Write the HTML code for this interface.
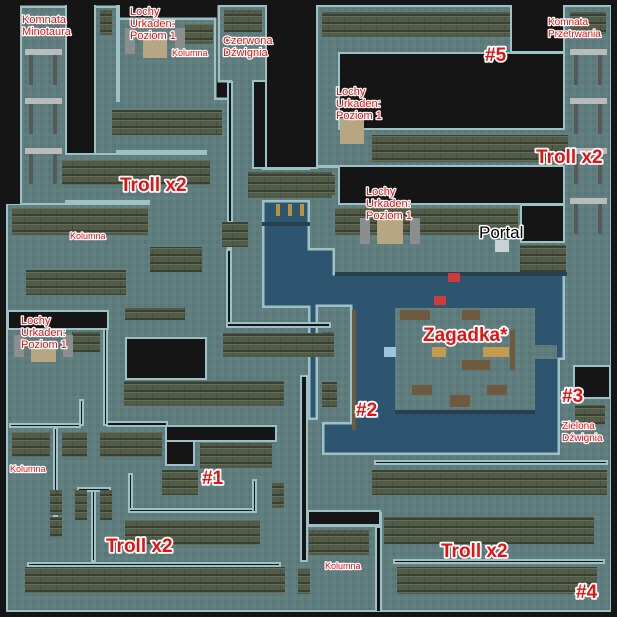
<!DOCTYPE html>
<html><head><meta charset="utf-8"><style>
html,body{margin:0;padding:0;background:#151515;}
svg{display:block;}
text{font-family:"Liberation Sans",sans-serif;paint-order:stroke;stroke:#fff;stroke-linejoin:round;}
.s{font-size:11px;fill:#e81010;stroke-width:2.5px;}
.k{font-size:9px;fill:#e81010;stroke-width:2.5px;}
.b{font-size:19px;font-weight:bold;fill:#e81010;stroke-width:3.5px;}
</style></head><body>
<svg width="617" height="617" viewBox="0 0 617 617" xmlns="http://www.w3.org/2000/svg">
<defs>
<pattern id="w" width="16" height="8" patternUnits="userSpaceOnUse">
<rect width="16" height="8" fill="#525b47"/>
<rect y="6" width="16" height="2" fill="#3a4133"/>
<rect x="8" width="1" height="6" fill="#454d3c"/>
<rect width="16" height="1" fill="#646e57"/>
</pattern>
<pattern id="f" width="8" height="8" patternUnits="userSpaceOnUse">
<rect width="8" height="8" fill="#5f7d7f"/>
<rect width="4" height="4" fill="#5a7779"/>
<rect x="4" y="4" width="4" height="4" fill="#63817f"/>
</pattern>
</defs>
<rect width="617" height="617" fill="#151515"/>
<!-- water -->
<rect x="262" y="200" width="310" height="255" fill="#2e5570"/>
<g fill="none" stroke="#9cc2c6" stroke-width="5">
<rect x="22" y="8" width="43" height="195"/><rect x="22" y="155" width="190" height="45"/>
<rect x="96" y="8" width="20" height="145"/><rect x="120" y="20" width="94" height="82"/>
<rect x="96" y="102" width="130" height="48"/><rect x="207" y="100" width="20" height="240"/>
<rect x="220" y="7" width="45" height="73"/><rect x="232" y="75" width="30" height="260"/>
<rect x="248" y="170" width="90" height="30"/><rect x="8" y="205" width="145" height="105"/>
<rect x="125" y="240" width="85" height="70"/><rect x="150" y="200" width="60" height="50"/>
<rect x="8" y="308" width="300" height="302"/><rect x="8" y="300" width="254" height="12"/>
<rect x="318" y="7" width="292" height="46"/><rect x="318" y="7" width="20" height="158"/>
<rect x="318" y="130" width="292" height="35"/><rect x="565" y="7" width="45" height="453"/>
<rect x="310" y="168" width="28" height="80"/><rect x="335" y="205" width="232" height="68"/>
<rect x="318" y="307" width="32" height="115"/><rect x="318" y="455" width="292" height="57"/>
<rect x="382" y="510" width="228" height="100"/><rect x="307" y="527" width="68" height="83"/>
<rect x="560" y="360" width="50" height="100"/><rect x="300" y="420" width="22" height="92"/>
</g>
<g fill="url(#f)">
<rect x="22" y="8" width="43" height="195"/><rect x="22" y="155" width="190" height="45"/>
<rect x="96" y="8" width="20" height="145"/><rect x="120" y="20" width="94" height="82"/>
<rect x="96" y="102" width="130" height="48"/><rect x="207" y="100" width="20" height="240"/>
<rect x="220" y="7" width="45" height="73"/><rect x="232" y="75" width="30" height="260"/>
<rect x="248" y="170" width="90" height="30"/><rect x="8" y="205" width="145" height="105"/>
<rect x="125" y="240" width="85" height="70"/><rect x="150" y="200" width="60" height="50"/>
<rect x="8" y="308" width="300" height="302"/><rect x="8" y="300" width="254" height="12"/>
<rect x="318" y="7" width="292" height="46"/><rect x="318" y="7" width="20" height="158"/>
<rect x="318" y="130" width="292" height="35"/><rect x="565" y="7" width="45" height="453"/>
<rect x="310" y="168" width="28" height="80"/><rect x="335" y="205" width="232" height="68"/>
<rect x="318" y="307" width="32" height="115"/><rect x="318" y="455" width="292" height="57"/>
<rect x="382" y="510" width="228" height="100"/><rect x="307" y="527" width="68" height="83"/>
<rect x="560" y="360" width="50" height="100"/><rect x="300" y="420" width="22" height="92"/>
</g>
<!-- island -->
<rect x="395" y="308" width="140" height="105" fill="url(#f)"/>
<rect x="535" y="345" width="22" height="14" fill="url(#f)"/>
<rect x="395" y="410" width="140" height="4" fill="#26404f"/>
<rect x="335" y="272" width="232" height="4" fill="#26404f"/>
<rect x="262" y="222" width="48" height="4" fill="#26404f"/>
<!-- voids -->
<g fill="#151515" stroke="#9cc2c6" stroke-width="2">
<rect x="66" y="0" width="29" height="154"/>
<rect x="117" y="0" width="2" height="101"/>
<rect x="266" y="0" width="51" height="168"/>
<rect x="253" y="81" width="13" height="87"/>
<rect x="339" y="53" width="225" height="76"/>
<rect x="511" y="0" width="53" height="52"/>
<rect x="339" y="166" width="225" height="38"/>
<rect x="521" y="205" width="43" height="37"/>
<rect x="8" y="311" width="100" height="18"/>
<rect x="126" y="338" width="80" height="41"/>
<rect x="166" y="426" width="110" height="15"/>
<rect x="166" y="441" width="28" height="24"/>
<rect x="301" y="376" width="6" height="185"/>
<rect x="308" y="511" width="72" height="14"/>
<rect x="376" y="527" width="5" height="85"/>
<rect x="574" y="366" width="36" height="32"/>
<rect x="10" y="424" width="70" height="3"/>
<rect x="54" y="428" width="3" height="88"/>
<rect x="78" y="488" width="32" height="3"/>
<rect x="92" y="491" width="3" height="70"/>
<rect x="129" y="474" width="3" height="36"/>
<rect x="129" y="509" width="124" height="3"/>
<rect x="253" y="480" width="3" height="32"/>
<rect x="28" y="563" width="252" height="3"/>
<rect x="104" y="329" width="3" height="96"/>
<rect x="80" y="400" width="3" height="25"/>
<rect x="107" y="422" width="60" height="4"/>
<rect x="227" y="250" width="4" height="75"/>
<rect x="227" y="323" width="103" height="4"/>
<rect x="228" y="82" width="4" height="140"/>
<rect x="375" y="461" width="232" height="3"/>
<rect x="394" y="560" width="210" height="3"/>
</g>
<rect x="0" y="0" width="617" height="5" fill="#151515"/>
<rect x="0" y="612" width="617" height="5" fill="#151515"/>
<rect x="0" y="0" width="6" height="617" fill="#151515"/>
<rect x="611" y="0" width="6" height="617" fill="#151515"/>
<rect x="0" y="0" width="20" height="204" fill="#151515"/>
<!-- walls -->
<g fill="url(#w)">
<rect x="100" y="10" width="12" height="25"/><rect x="62" y="160" width="148" height="25"/>
<rect x="112" y="110" width="110" height="25"/><rect x="248" y="172" width="84" height="26"/>
<rect x="12" y="208" width="136" height="27"/><rect x="26" y="270" width="100" height="25"/>
<rect x="150" y="247" width="52" height="25"/><rect x="222" y="222" width="26" height="25"/>
<rect x="185" y="24" width="28" height="20"/><rect x="224" y="10" width="38" height="22"/>
<rect x="72" y="332" width="28" height="20"/><rect x="124" y="381" width="160" height="25"/>
<rect x="12" y="432" width="38" height="25"/><rect x="62" y="432" width="25" height="25"/>
<rect x="100" y="432" width="62" height="25"/><rect x="200" y="443" width="72" height="25"/>
<rect x="162" y="470" width="36" height="25"/><rect x="125" y="520" width="135" height="25"/>
<rect x="25" y="567" width="260" height="26"/><rect x="50" y="490" width="12" height="25"/>
<rect x="75" y="490" width="12" height="30"/><rect x="100" y="490" width="12" height="30"/>
<rect x="272" y="483" width="12" height="25"/><rect x="50" y="517" width="12" height="20"/>
<rect x="223" y="333" width="99" height="24"/><rect x="125" y="308" width="60" height="12"/>
<rect x="298" y="568" width="12" height="26"/>
<rect x="322" y="12" width="188" height="25"/><rect x="372" y="135" width="196" height="27"/>
<rect x="335" y="208" width="183" height="27"/><rect x="520" y="245" width="46" height="27"/>
<rect x="307" y="175" width="28" height="20"/><rect x="570" y="12" width="36" height="22"/>
<rect x="372" y="470" width="235" height="25"/><rect x="384" y="517" width="210" height="27"/>
<rect x="397" y="567" width="200" height="27"/><rect x="309" y="530" width="60" height="25"/>
<rect x="322" y="382" width="15" height="25"/><rect x="322" y="332" width="12" height="25"/>
<rect x="575" y="405" width="30" height="20"/>
</g>
<!-- pillars -->
<g fill="#b9bcbb">
<rect x="25" y="49" width="37" height="6"/><rect x="25" y="98" width="37" height="6"/><rect x="25" y="148" width="37" height="6"/>
<rect x="570" y="49" width="37" height="6"/><rect x="570" y="98" width="37" height="6"/><rect x="570" y="148" width="37" height="6"/><rect x="570" y="198" width="37" height="6"/>
</g>
<g fill="#55595a">
<rect x="29" y="55" width="4" height="30"/><rect x="53" y="55" width="4" height="30"/>
<rect x="29" y="104" width="4" height="30"/><rect x="53" y="104" width="4" height="30"/>
<rect x="29" y="154" width="4" height="30"/><rect x="53" y="154" width="4" height="30"/>
<rect x="574" y="55" width="4" height="30"/><rect x="598" y="55" width="4" height="30"/>
<rect x="574" y="104" width="4" height="30"/><rect x="598" y="104" width="4" height="30"/>
<rect x="574" y="154" width="4" height="30"/><rect x="598" y="154" width="4" height="30"/>
<rect x="574" y="204" width="4" height="30"/><rect x="598" y="204" width="4" height="30"/>
</g>
<!-- stairs & columns -->
<g fill="#b6a682">
<rect x="143" y="38" width="24" height="20"/><rect x="340" y="118" width="24" height="26"/>
<rect x="377" y="218" width="26" height="26"/><rect x="31" y="342" width="25" height="20"/>
</g>
<g fill="#8a8e8f">
<rect x="125" y="28" width="10" height="26"/><rect x="175" y="28" width="10" height="22"/>
<rect x="360" y="218" width="10" height="26"/><rect x="410" y="218" width="10" height="26"/>
<rect x="14" y="335" width="10" height="22"/><rect x="63" y="335" width="10" height="22"/>
</g>
<g fill="#b8913a">
<rect x="276" y="204" width="4" height="12"/><rect x="288" y="204" width="4" height="12"/><rect x="300" y="204" width="4" height="12"/>
</g>
<!-- island props -->
<g fill="#6d5a3f">
<rect x="400" y="310" width="30" height="10"/><rect x="462" y="310" width="18" height="10"/>
<rect x="462" y="360" width="28" height="10"/><rect x="412" y="385" width="20" height="10"/>
<rect x="487" y="385" width="20" height="10"/><rect x="450" y="395" width="20" height="12"/>
<rect x="352" y="310" width="4" height="120"/><rect x="510" y="330" width="5" height="40"/>
</g>
<rect x="432" y="347" width="14" height="10" fill="#c49a4e"/><rect x="483" y="347" width="26" height="10" fill="#c49a4e"/>
<rect x="384" y="347" width="12" height="10" fill="#9fc4e0"/>
<rect x="448" y="273" width="12" height="9" fill="#d03a3a"/><rect x="434" y="296" width="12" height="9" fill="#d03a3a"/>
<rect x="495" y="240" width="14" height="12" fill="#c9d3d3"/>
<!-- labels -->
<text class="s" x="22" y="23">Komnata</text><text class="s" x="22" y="35">Minotaura</text>
<text class="s" x="130" y="15">Lochy</text><text class="s" x="130" y="27">Urkaden:</text><text class="s" x="130" y="39">Poziom 1</text>
<text class="k" x="172" y="56">Kolumna</text>
<text class="s" x="223" y="44">Czerwona</text><text class="s" x="223" y="56">Dźwignia</text>
<text class="b" x="120" y="191">Troll x2</text>
<text class="k" x="70" y="239">Kolumna</text>
<text class="b" x="485" y="61">#5</text>
<text class="s" x="548" y="25" style="font-size:10px">Komnata</text><text class="s" x="548" y="37" style="font-size:10px">Przetrwania</text>
<text class="s" x="336" y="95">Lochy</text><text class="s" x="336" y="107">Urkaden:</text><text class="s" x="336" y="119">Poziom 1</text>
<text class="b" x="536" y="163">Troll x2</text>
<text class="s" x="366" y="195">Lochy</text><text class="s" x="366" y="207">Urkaden:</text><text class="s" x="366" y="219">Poziom 1</text>
<text x="479" y="238" style="font-size:17px;fill:#000;stroke-width:3px">Portal</text>
<text class="b" x="423" y="341">Zagadka*</text>
<text class="b" x="356" y="416">#2</text>
<text class="b" x="562" y="402">#3</text>
<text class="s" x="562" y="429" style="font-size:10px">Zielona</text><text class="s" x="562" y="441" style="font-size:10px">Dźwignia</text>
<text class="s" x="21" y="324">Lochy</text><text class="s" x="21" y="336">Urkaden:</text><text class="s" x="21" y="348">Poziom 1</text>
<text class="k" x="10" y="472">Kolumna</text>
<text class="b" x="202" y="484">#1</text>
<text class="b" x="106" y="552">Troll x2</text>
<text class="b" x="441" y="557">Troll x2</text>
<text class="k" x="325" y="569">Kolumna</text>
<text class="b" x="576" y="598">#4</text>
</svg>
</body></html>
